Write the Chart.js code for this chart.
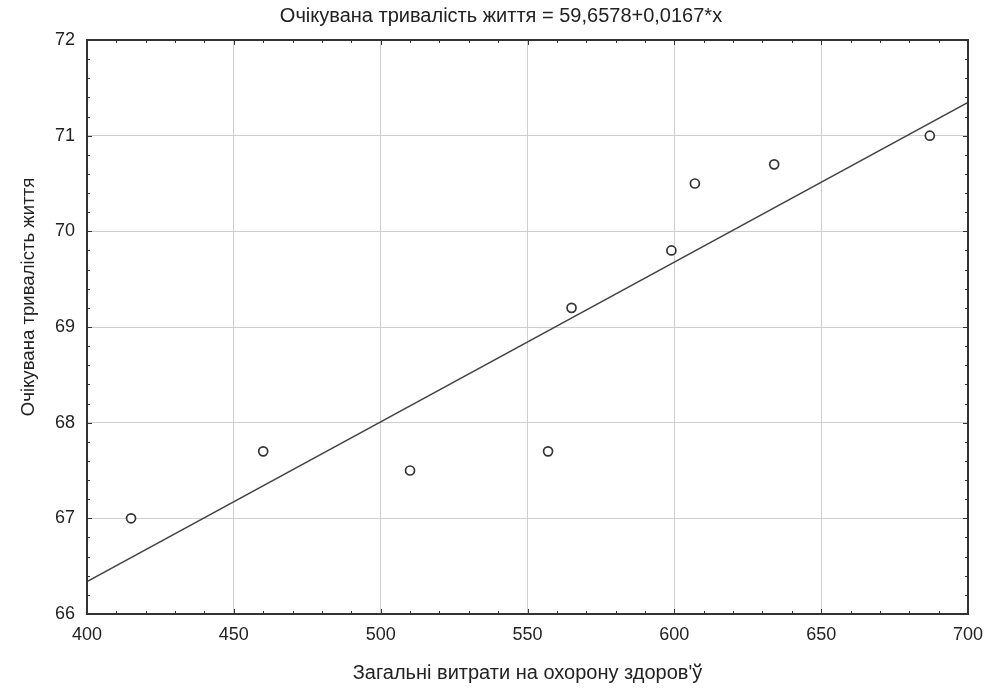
<!DOCTYPE html>
<html>
<head>
<meta charset="utf-8">
<script src="https://cdn.jsdelivr.net/npm/chart.js@4"></script>
<style>
  html, body { margin: 0; padding: 0; background: #fff; }
  #wrap { width: 995px; height: 693px; }
</style>
</head>
<body>
<div id="wrap"><canvas id="chart"></canvas></div>
<script>
// Health spending vs life expectancy
const spending = [415, 460, 510, 557, 565, 599, 607, 634, 687];
const lifeExp = [67.0, 67.7, 67.5, 67.7, 69.2, 69.8, 70.5, 70.7, 71.0];

// regression from the title
const intercept = 59.6578;
const slope = 0.0167;
const xRange = [400, 700];

const titleText = 'Очікувана тривалість життя = 59,6578+0,0167*x';
const xTitle = 'Загальні витрати на охорону здоров\'ў';
const yTitle = 'Очікувана тривалість життя';

const fontFamily = '"Liberation Sans", Arial, sans-serif';
const ink = '#333';

// frame, minor ticks and the two titles placed like the original stats package
const framePlugin = {
    id: 'frame',
    afterDatasetsDraw(chart) {
        const { ctx, chartArea: a, scales } = chart;
        ctx.save();
        ctx.strokeStyle = ink;
        ctx.lineWidth = 1;
        const xs = scales.x, ys = scales.y;
        for (let v = xs.min; v <= xs.max + 0.001; v += 10) {
            const px = Math.round(xs.getPixelForValue(v)) + 0.5;
            const len = (v % 50 === 0) ? 5 : 3;
            ctx.beginPath();
            ctx.moveTo(px, a.bottom); ctx.lineTo(px, a.bottom - len);
            ctx.moveTo(px, a.top); ctx.lineTo(px, a.top + len);
            ctx.stroke();
        }
        for (let i = 0; i <= (ys.max - ys.min) * 5; i++) {
            const v = ys.min + i * 0.2;
            const py = Math.round(ys.getPixelForValue(v)) + 0.5;
            const len = (i % 5 === 0) ? 5 : 3;
            ctx.beginPath();
            ctx.moveTo(a.left, py); ctx.lineTo(a.left + len, py);
            ctx.moveTo(a.right, py); ctx.lineTo(a.right - len, py);
            ctx.stroke();
        }
        ctx.lineWidth = 2;
        ctx.strokeRect(a.left, a.top, a.right - a.left, a.bottom - a.top);

        ctx.fillStyle = '#222';
        ctx.textAlign = 'center';
        ctx.textBaseline = 'middle';

        // chart title, centred on the whole window
        ctx.font = '20px ' + fontFamily;
        ctx.fillText(titleText, 501, 16);

        // y axis title sits a bit above the middle in the original
        ctx.translate(28.5, 297);
        ctx.rotate(-Math.PI / 2);
        ctx.font = '18.6px ' + fontFamily;
        ctx.fillText(yTitle, 0, 0);
        ctx.restore();
    }
};

const ctx = document.getElementById('chart').getContext('2d');
new Chart(ctx, {
    type: 'scatter',
    data: {
        datasets: [
            {
                label: 'fit',
                data: xRange.map(x => ({ x: x, y: intercept + slope * x })),
                showLine: true,
                borderColor: '#444',
                borderWidth: 1.5,
                pointRadius: 0,
                order: 2
            },
            {
                label: 'data',
                data: spending.map((x, i) => ({ x: x, y: lifeExp[i] })),
                pointRadius: 4.5,
                pointBorderWidth: 1.7,
                pointBorderColor: ink,
                pointBackgroundColor: '#fff',
                order: 1
            }
        ]
    },
    plugins: [framePlugin],
    options: {
        responsive: true,
        maintainAspectRatio: false,
        animation: false,
        layout: { padding: { left: 0, right: 27, top: 40, bottom: 0 } },
        plugins: {
            legend: { display: false },
            tooltip: { enabled: false },
            title: { display: false }
        },
        scales: {
            x: {
                type: 'linear',
                min: 400,
                max: 700,
                ticks: {
                    stepSize: 50,
                    color: '#222',
                    padding: 10,
                    font: { family: fontFamily, size: 18 }
                },
                grid: { color: '#cfcfcf', drawTicks: false },
                border: { display: false },
                title: {
                    display: true,
                    text: xTitle,
                    color: '#222',
                    font: { family: fontFamily, size: 20 },
                    padding: { top: 8, bottom: 8 }
                },
                afterFit(scale) { scale.height = 79; }
            },
            y: {
                min: 66,
                max: 72,
                ticks: {
                    stepSize: 1,
                    color: '#222',
                    padding: 12,
                    font: { family: fontFamily, size: 18 }
                },
                grid: { color: '#cfcfcf', drawTicks: false },
                border: { display: false },
                afterFit(scale) { scale.width = 87; }
            }
        }
    }
});
</script>
</body>
</html>
